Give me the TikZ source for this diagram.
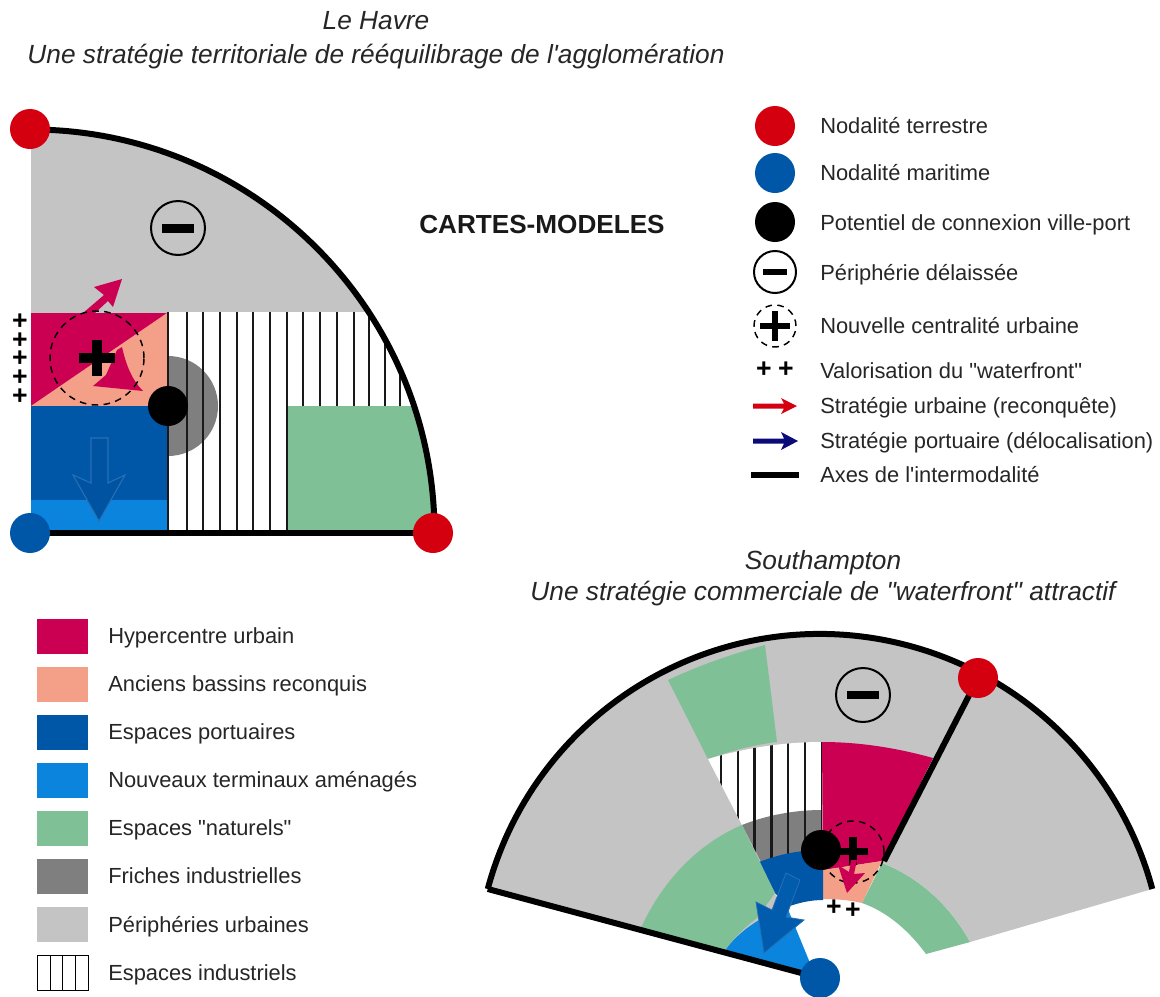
\documentclass[tikz,border=0pt]{standalone}
\usepackage{fontspec}
\setmainfont{Liberation Sans}[Ligatures=TeXOff]
\definecolor{crim}{HTML}{CC0052}
\definecolor{salm}{HTML}{F4A088}
\definecolor{bleu}{HTML}{0057A8}
\definecolor{lblue}{HTML}{0A84DC}
\definecolor{verd}{HTML}{7FC096}
\definecolor{dgray}{HTML}{7F7F7F}
\definecolor{lgray}{HTML}{C4C4C4}
\definecolor{rouge}{HTML}{D40010}
\definecolor{navy2}{HTML}{0A0A78}
\tikzset{
  lab/.style={anchor=base west,inner sep=0pt,font=\fontsize{16.4}{18}\selectfont,text=black!85},
  ttl/.style={anchor=base,inner sep=0pt,font=\fontsize{19.7}{22}\selectfont\itshape,text=black!85},
  dot/.style={circle,minimum size=40*0.75pt,inner sep=0pt},
  swatch/.style={minimum width=51*0.75pt,minimum height=35*0.75pt,inner sep=0pt,anchor=north west},
  thickax/.style={line width=4.5pt,black},
  stripe/.style={line width=1.7pt,black!90},
  ring/.style={circle,draw=black,line width=1.5pt,inner sep=0pt},
  dashring/.style={circle,draw=black,line width=1.1pt,dash pattern=on 5pt off 4pt,inner sep=0pt},
  plusmark/.style={anchor=center,inner sep=0pt,font=\fontsize{20}{20}\selectfont\bfseries,text=black},
}
\begin{document}
\begin{tikzpicture}[x=0.75pt,y=0.75pt]
\useasboundingbox (0,-996) rectangle (1160,0);
\fill[white] (0,-996) rectangle (1160,0);
% titles
\node[ttl] (t1) at (376,-29) {Le Havre};
\node[ttl] (t2) at (376,-63) {Une stratégie territoriale de rééquilibrage de l'agglomération};
\node[ttl] (t3) at (823,-569) {Southampton};
\node[ttl] (t4) at (823,-600) {Une stratégie commerciale de "waterfront" attractif};
\node[anchor=base west,inner sep=0pt,font=\fontsize{19.6}{22}\selectfont\bfseries,text=black!90] (cm) at (419,-233) {CARTES-MODELES};

% ===== Le Havre =====
\coordinate (hO) at (31,-533);
\coordinate (hE) at (433,-533);
\fill[lgray] (31,-533) -- (31,-130) arc[start angle=90,end angle=0,radius=403] -- cycle;
\begin{scope}
  \clip (31,-533) -- (31,-130) arc[start angle=90,end angle=0,radius=403] -- cycle;
  \fill[white] (167,-312) rectangle (440,-533);
  \fill[dgray] (168,-356) arc[start angle=90,end angle=-90,radius=50] -- cycle;
  \foreach \xx in {168,187,203,220,237,253,270,287,303,320,337,354,369,385,400} \draw[stripe] (\xx,-312) -- (\xx,-533);
  \fill[verd] (288,-406) rectangle (440,-533);
\end{scope}
\fill[crim] (31,-313) rectangle (167,-406);
\fill[salm] (31,-406) -- (167,-313) -- (167,-406) -- cycle;
\fill[bleu] (31,-406) rectangle (167,-500);
\fill[lblue] (31,-500) rectangle (167,-530);
\draw[stripe] (168,-312) -- (168,-533);
% arrows Le Havre
\fill[crim] (83,-313) -- (104,-295) -- (94,-287) -- (122,-279) -- (113,-307) -- (108,-301) -- (95,-313) -- cycle;
\fill[crim] (117,-350) -- (122,-347) .. controls (126,-365) and (132,-380) .. (143,-391) -- (93,-386) -- (106,-375) -- cycle;
\draw[bleu!85!white,line width=0.8pt,fill=bleu!95!black] (91,-438) -- (108,-438) -- (108,-483) -- (125,-475) -- (99,-521) -- (73,-475) -- (91,-483) -- cycle;
% plus + dashed
\node[dashring,minimum size=94*0.75pt] (hPlusRing) at (97,-358) {};
\fill[black] (79,-353) rectangle (115,-363);
\fill[black] (92,-340) rectangle (102,-376);
% small pluses
\foreach \yy/\nm in {322/a,341/b,359/c,378/d,397/e}
  \node[plusmark] (hp\nm) at (20,-\yy) {+};
% minus
\node[ring,minimum size=54*0.75pt] (hMinus) at (178,-228) {};
\fill[black] (162,-224) rectangle (194,-233);
% axes
\draw[thickax] (31,-129.5) arc[start angle=90,end angle=0,radius=403.5];
\draw[thickax] (hO) -- (hE);
% nodes
\node[dot,fill=rouge] (hN1) at (30,-129) {};
\node[dot,fill=rouge] (hN2) at (433,-533) {};
\node[dot,fill=bleu] (hN3) at (30,-533) {};
\node[dot,fill=black] (hN4) at (168,-406) {};

% ===== Southampton =====
\coordinate (sO) at (820,-978);
\fill[lgray] (sO) -- ([shift={(820,-978)}]165:344) arc[start angle=165,end angle=15,radius=344] -- (970,-942) -- cycle;
% white under the fan
\fill[white] (815,-985) -- (970,-942) .. controls (950,-906) and (920,-878) .. (882,-863) -- (775,-893) -- cycle;
% upper green wedge
\fill[verd] (668,-680) .. controls (700,-665) and (732,-654) .. (765,-645) -- (777,-742) .. controls (753,-745) and (730,-751) .. (708,-759) -- cycle;
% white stripes area
\fill[white] (708,-759) .. controls (745,-748) and (783,-742) .. (822,-742) -- (822,-850) -- (761,-862) -- cycle;
% friche
\fill[dgray] (742,-825) .. controls (767,-815) and (795,-810) .. (822,-810) -- (822,-850) -- (761,-862) -- cycle;
\begin{scope}
  \clip (708,-759) .. controls (745,-748) and (783,-742) .. (822,-742) -- (822,-860) -- (761,-862) -- cycle;
  \foreach \k in {0,...,6} \draw[stripe] ({721+\k*16.8},-742) -- ({721+\k*16.8},-870);
\end{scope}
% crimson, salmon
\fill[crim] (822,-742) .. controls (860,-742) and (897,-748) .. (933,-758) -- (882,-861) -- (823,-870) -- cycle;
\fill[salm] (823,-870) -- (882,-861) -- (862,-903) .. controls (850,-900) and (835,-899) .. (823,-899) -- cycle;
% blue
\fill[bleu] (759,-862) .. controls (780,-854) and (800,-850) .. (823,-850) -- (823,-900) .. controls (810,-900) and (798,-903) .. (787,-907) -- (775,-893) -- cycle;
% light blue
\fill[lblue] (724,-952) .. controls (735,-935) and (758,-917) .. (787,-907) -- (810,-963) -- (820,-978) -- cycle;
% green left
\fill[verd] (640,-930) .. controls (660,-885) and (695,-845) .. (742,-825) -- (775,-893) -- (757,-918) .. controls (745,-927) and (733,-938) .. (724,-952) -- cycle;
% green right
\fill[verd] (882,-863) .. controls (920,-878) and (950,-906) .. (970,-942) -- (926,-954) .. controls (910,-932) and (888,-912) .. (862,-903) -- cycle;
% axes
\draw[thickax] ([shift={(820,-978)}]165:344) arc[start angle=165,end angle=15,radius=344];
\coordinate (sBL) at ([shift={(820,-978)}]165:344);
\draw[thickax] (sBL) -- (sO);
\coordinate (sTR) at (978,-678);
\coordinate (sTB) at (884,-861);
\draw[thickax] (sTR) -- (sTB);
% arrow blue
\draw[bleu!85!white,line width=0.6pt,fill=bleu!90!lblue] (786,-873) -- (800,-880) -- (786,-917) -- (804,-920) -- (764,-953) -- (756,-902) -- (772,-910) -- cycle;
% plus and dashed ring
\node[dashring,minimum size=62*0.75pt] (sPlusRing) at (853,-852) {};
\fill[black] (835,-848) rectangle (868,-855);
\fill[black] (849,-837) rectangle (857,-865);
% crimson arrow
\fill[crim] (851,-860) -- (857,-860) -- (854,-874) -- (865,-873) -- (847,-893) -- (838,-865) -- (849,-872) -- cycle;
\node[plusmark] (sp1) at (834,-908) {+};
\node[plusmark] (sp2) at (853,-911) {+};
% minus
\node[ring,minimum size=54*0.75pt] (sMinus) at (863,-695) {};
\fill[black] (847,-691) rectangle (879,-699);
% nodes
\node[dot,fill=black] (sN1) at (821,-850) {};
\node[dot,fill=rouge] (sN2) at (978,-678) {};
\node[dot,fill=bleu] (sN3) at (820,-978) {};

% ===== legend right =====
\node[dot,fill=rouge] (l1) at (775,-126) {};
\node[dot,fill=bleu] (l2) at (775,-173) {};
\node[dot,fill=black] (l3) at (775,-222) {};
\node[ring,minimum size=42*0.75pt] (l4) at (775,-272) {};
\fill[black] (763,-269) rectangle (787,-275);
\node[dashring,minimum size=42*0.75pt] (l5) at (775,-326) {};
\fill[black] (760,-323) rectangle (790,-329);
\fill[black] (772,-311) rectangle (778,-341);
\node[plusmark] (l6a) at (764,-370) {+};
\node[plusmark] (l6b) at (786,-370) {+};
\fill[rouge] (753,-403.5) -- (784,-403.5) -- (781,-398) -- (797,-406) -- (781,-414) -- (784,-408.5) -- (753,-408.5) -- cycle;
\fill[navy2] (753,-438.5) -- (784,-438.5) -- (781,-432) -- (798,-441) -- (781,-450) -- (784,-443.5) -- (753,-443.5) -- cycle;
\coordinate (barA) at (751,-475);
\coordinate (barB) at (799,-475);
\draw[thickax,line width=5pt] (barA) -- (barB);
\node[lab] (lt1) at (820,-133) {Nodalité terrestre};
\node[lab] (lt2) at (820,-180) {Nodalité maritime};
\node[lab] (lt3) at (820,-230) {Potentiel de connexion ville-port};
\node[lab] (lt4) at (820,-280) {Périphérie délaissée};
\node[lab] (lt5) at (820,-333) {Nouvelle centralité urbaine};
\node[lab] (lt6) at (820,-378) {Valorisation du "waterfront"};
\node[lab] (lt7) at (820,-413) {Stratégie urbaine (reconquête)};
\node[lab] (lt8) at (820,-448) {Stratégie portuaire (délocalisation)};
\node[lab] (lt9) at (820,-482) {Axes de l'intermodalité};

% ===== legend left =====
\node[swatch,fill=crim] (s1) at (37,-619) {};
\node[swatch,fill=salm] (s2) at (37,-667) {};
\node[swatch,fill=bleu] (s3) at (37,-715) {};
\node[swatch,fill=lblue] (s4) at (37,-763) {};
\node[swatch,fill=verd] (s5) at (37,-811) {};
\node[swatch,fill=dgray] (s6) at (37,-859) {};
\node[swatch,fill=lgray] (s7) at (37,-907) {};
\node[swatch,draw=black,line width=0.6pt] (s8) at (37,-955) {};
\foreach \xx in {50,62.5,75} \draw[black,line width=0.6pt] (\xx,-955) -- (\xx,-990);
\node[lab] (st1) at (108,-643) {Hypercentre urbain};
\node[lab] (st2) at (108,-691) {Anciens bassins reconquis};
\node[lab] (st3) at (108,-739) {Espaces portuaires};
\node[lab] (st4) at (108,-787) {Nouveaux terminaux aménagés};
\node[lab] (st5) at (108,-835) {Espaces "naturels"};
\node[lab] (st6) at (108,-883) {Friches industrielles};
\node[lab] (st7) at (108,-932) {Périphéries urbaines};
\node[lab] (st8) at (108,-980) {Espaces industriels};
\end{tikzpicture}
\end{document}
